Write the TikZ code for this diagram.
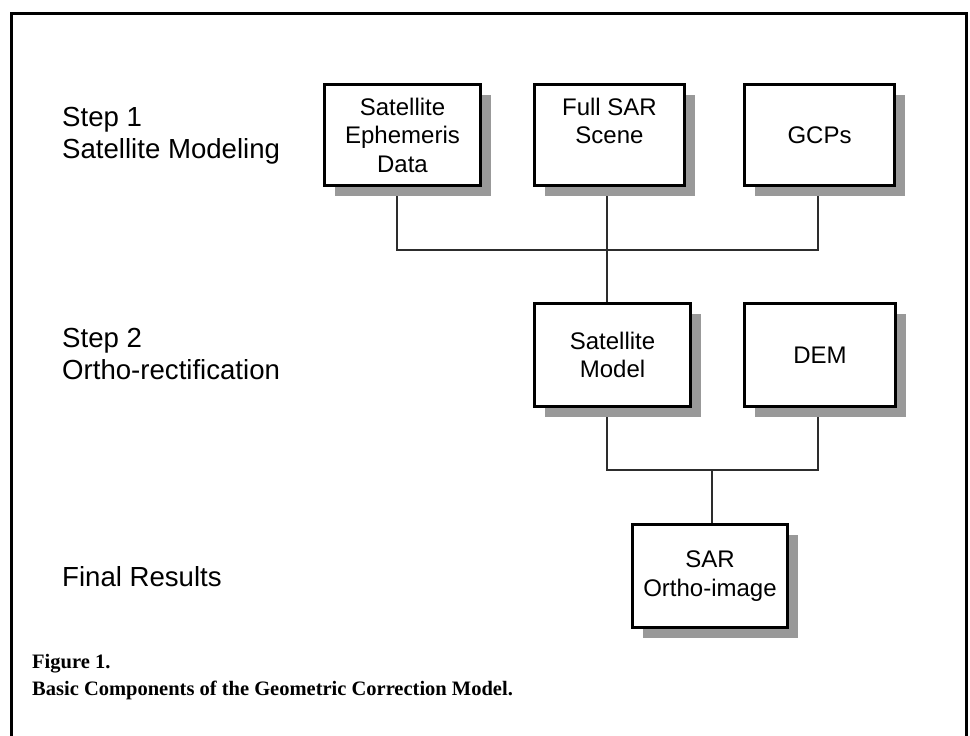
\documentclass[tikz,border=0pt]{standalone}
\usepackage{fontspec}
\setmainfont{Liberation Sans}
\newfontfamily\capfont{Liberation Serif}
\usetikzlibrary{shadows,backgrounds}
\definecolor{shadowgray}{RGB}{153,153,153}
\definecolor{linkgray}{RGB}{45,45,45}

\begin{document}
\begin{tikzpicture}[x=1pt,y=-1pt,
  box/.style={draw=black, line width=2.6pt, fill=white, inner sep=0pt, align=center,
    font=\fontsize{24}{28.5}\selectfont,
    general shadow={fill=shadowgray, shadow xshift=10pt, shadow yshift=-10pt}},
  link/.style={draw=linkgray, line width=2pt},
  steplabel/.style={anchor=base west, inner sep=0pt, font=\fontsize{27.6}{32}\selectfont},
  figcaption/.style={anchor=base west, inner sep=0pt, font=\capfont\bfseries\fontsize{20.5}{24}\selectfont}]

\clip (0,0) rectangle (970,736);

% outer frame, open at the bottom
\draw[line width=3pt] (11.5,760) -- (11.5,13.5) -- (966.5,13.5) -- (966.5,760);

% step labels
\node[steplabel] (s1)  at (62,126) {Step 1};
\node[steplabel] (s1t) at (62,158) {Satellite Modeling};
\node[steplabel] (s2)  at (62,347) {Step 2};
\node[steplabel] (s2t) at (62,379) {Ortho-rectification};
\node[steplabel] (s3)  at (62,586) {Final Results};

% step 1 inputs
\node[box, minimum width=156pt, minimum height=101pt] (eph)   at (402.5,135) {Satellite\\Ephemeris\\Data};
\node[box, minimum width=150pt, minimum height=101pt] (scene) at (609.5,135) {Full SAR\\Scene\\\phantom{Data}};
\node[box, minimum width=150pt, minimum height=101pt] (gcp)   at (819.5,135) {GCPs};

% step 2 inputs
\node[box, minimum width=156pt, minimum height=103pt] (model) at (612.5,355) {Satellite\\Model};
\node[box, minimum width=151pt, minimum height=103pt] (dem)   at (820,355) {DEM};

% result
\node[box, minimum width=155pt, minimum height=103pt] (ortho) at (710,576) {SAR\\Ortho-image};

% junction points
\coordinate (j1l) at (396.5,250);
\coordinate (j1c) at (607,250);
\coordinate (j1r) at (818,250);
\coordinate (j2l) at (607,470);
\coordinate (j2c) at (712,470);
\coordinate (j2r) at (818,470);

\begin{scope}[on background layer]
  \draw[link] (eph.south -| j1l) -- (j1l) -- (j1r) -- (gcp.south -| j1r);
  \draw[link] (scene.south -| j1c) -- (model.north -| j1c);
  \draw[link] (model.south -| j2l) -- (j2l) -- (j2r) -- (dem.south -| j2r);
  \draw[link] (j2c) -- (ortho.north -| j2c);
\end{scope}

% caption
\node[figcaption] (cap1) at (32,668) {Figure 1.};
\node[figcaption] (cap2) at (32,695) {Basic Components of the Geometric Correction Model.};
\end{tikzpicture}
\end{document}
